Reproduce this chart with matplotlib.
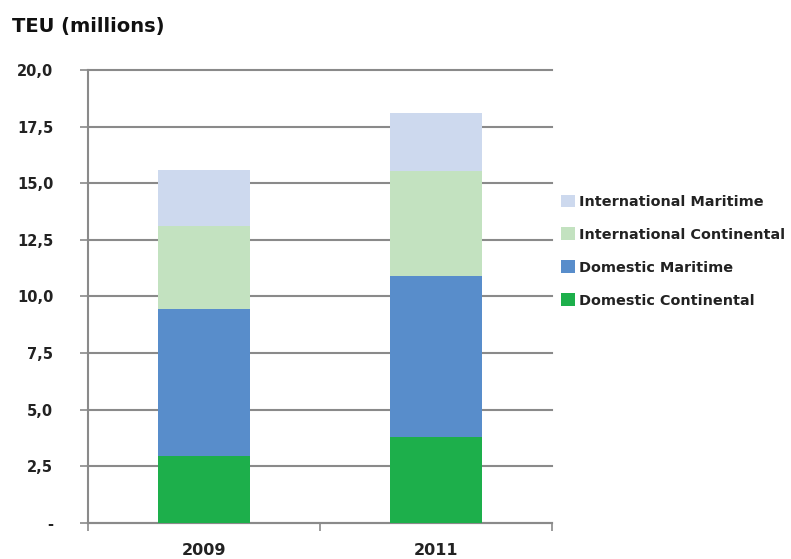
import matplotlib
matplotlib.use("Agg")
import matplotlib.pyplot as plt
from matplotlib.patches import Patch

plt.rcParams['font.family'] = ['DejaVu Sans']
plt.rcParams['font.weight'] = 'bold'

years = ['2009', '2011']
domestic_continental = [2.96, 3.81]
domestic_maritime = [6.47, 7.11]
international_continental = [3.70, 4.64]
international_maritime = [2.45, 2.53]

series_names = ['Domestic Continental', 'Domestic Maritime',
                'International Continental', 'International Maritime']
series_values = [domestic_continental, domestic_maritime,
                 international_continental, international_maritime]
series_colors = ['#1daf4b', '#588dcb', '#c3e2c0', '#cdd9ee']

y_ticks = [0, 2.5, 5, 7.5, 10, 12.5, 15, 17.5, 20]

fig = plt.figure(figsize=(7.91, 5.59), dpi=100)
ax = fig.add_axes([0.1113, 0.0644, 0.5866, 0.8104])

x = list(range(len(years)))
bottom = [0.0] * len(years)
for name, vals, col in zip(series_names, series_values, series_colors):
    ax.bar(x, vals, width=0.4, bottom=bottom, color=col, label=name, zorder=3)
    bottom = [b + v for b, v in zip(bottom, vals)]

ax.set_xlim(-0.5, len(years) - 0.5)
ax.set_ylim(0, 20)

ax.set_yticks(y_ticks)
ax.set_yticklabels(['-' if v == 0 else f"{v:.1f}".replace('.', ',') for v in y_ticks],
                   fontsize=10.5, fontweight='bold', color='#222222')
ax.tick_params(axis='y', length=6, width=1.2, color='#8a8a8a', pad=19)
ax.yaxis.grid(True, color='#8a8a8a', linewidth=1.5, zorder=1)
for gl in ax.get_ygridlines():
    gl.set_clip_on(False)

# category boundaries as major ticks, labels centred under the bars
ax.set_xticks([i - 0.5 for i in range(len(years) + 1)])
ax.set_xticklabels([])
ax.set_xticks(x, minor=True)
ax.set_xticklabels(years, minor=True, fontsize=11.5, fontweight='bold', color='#222222')
ax.tick_params(axis='x', which='major', length=6, width=1.2, color='#8a8a8a')
ax.tick_params(axis='x', which='minor', length=0, pad=14.5)

for side in ['top', 'right']:
    ax.spines[side].set_visible(False)
for side in ['left', 'bottom']:
    ax.spines[side].set_color('#8a8a8a')
    ax.spines[side].set_linewidth(1.5)
ax.set_axisbelow(True)

fig.text(0.015, 0.953, 'TEU (millions)', fontsize=14, fontweight='bold',
         ha='left', va='center', color='#111111')

handles = [Patch(facecolor=c, edgecolor='none') for c in series_colors][::-1]
labels = series_names[::-1]
leg = fig.legend(handles, labels, loc='upper left', bbox_to_anchor=(0.709, 0.652),
                 frameon=False, fontsize=10.4, handlelength=1.0, handleheight=1.0,
                 handletextpad=0.28, labelspacing=1.28, borderaxespad=0, borderpad=0)
for t in leg.get_texts():
    t.set_color('#222222')

fig.savefig('out.png', dpi=100)
